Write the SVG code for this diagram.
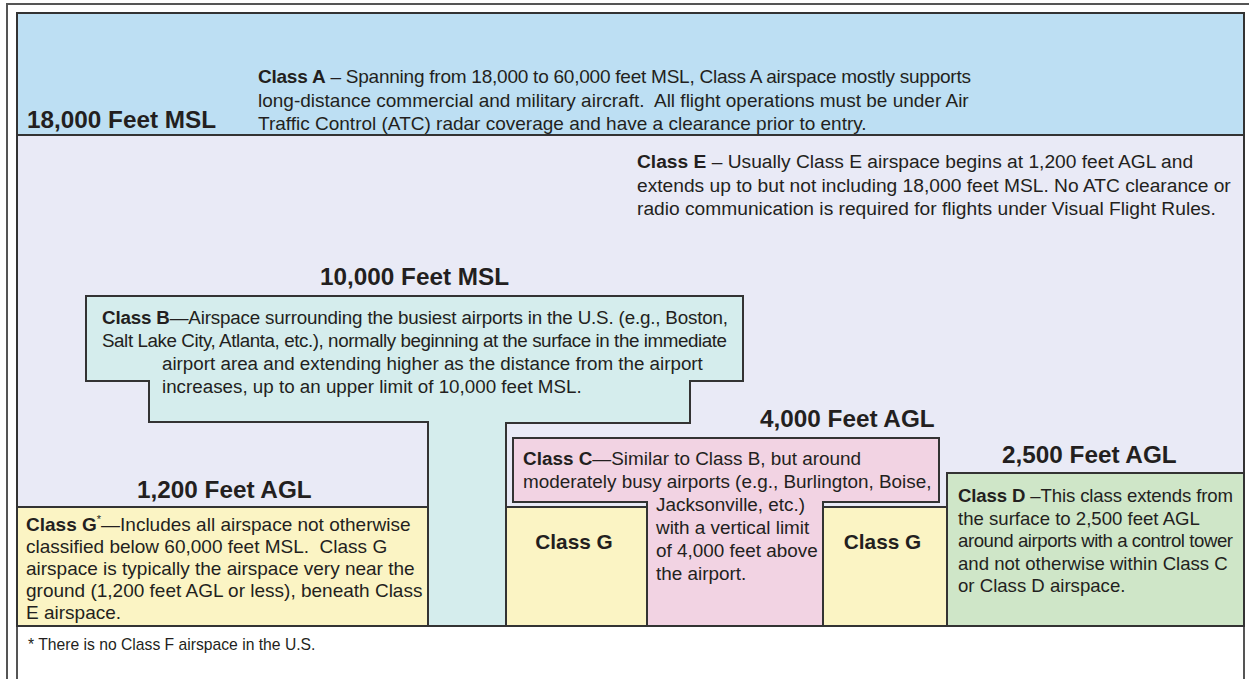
<svg xmlns="http://www.w3.org/2000/svg" width="1249" height="679" viewBox="0 0 1249 679">
  <style>
    .frame { fill: none; stroke: #555; stroke-width: 2; }
    .zone { stroke: #333; stroke-width: 2; stroke-linejoin: miter; }
    .a { fill: #bddff3; }
    .e { fill: #e9eaf6; }
    .b { fill: #d5eded; }
    .c { fill: #f2d3e3; }
    .g { fill: #fbf4c4; }
    .d { fill: #cfe6c8; }
    text { font-family: "Liberation Sans", Arial, Helvetica, sans-serif; fill: #231f20; white-space: pre; }
    .hdr { font-size: 24.3px; font-weight: bold; }
    .lbl { font-size: 20.8px; font-weight: bold; }
    .b-t { font-weight: bold; }
    .ta { font-size: 19px; }
    .te { font-size: 19.2px; }
    .tb { font-size: 18.8px; }
    .tc { font-size: 18.9px; }
    .td { font-size: 18.6px; }
    .tg { font-size: 19px; }
    .note { font-size: 15.7px; }
  </style>

  <rect x="0" y="0" width="1249" height="679" fill="#fff"/>

  <!-- double outer frame -->
  <g id="frame">
    <rect class="frame" x="7" y="4" width="1260" height="700"/>
    <rect class="frame" x="17" y="13" width="1227" height="700"/>
  </g>

  <!-- Class A band (18,000 to 60,000 ft) -->
  <g id="class-a">
    <rect class="zone a" x="17" y="13" width="1227" height="122"/>
    <text class="hdr" x="27" y="128">18,000 Feet MSL</text>
    <text class="ta" x="258" y="83" textLength="713"><tspan class="b-t">Class A</tspan> – Spanning from 18,000 to 60,000 feet MSL, Class A airspace mostly supports</text>
    <text class="ta" x="258" y="106.5">long-distance commercial and military aircraft.  All flight operations must be under Air</text>
    <text class="ta" x="258" y="130">Traffic Control (ATC) radar coverage and have a clearance prior to entry.</text>
  </g>

  <!-- Class E background -->
  <g id="class-e">
    <rect class="zone e" x="17" y="135" width="1227" height="491"/>
    <text class="te" x="637" y="168"><tspan class="b-t">Class E</tspan> – Usually Class E airspace begins at 1,200 feet AGL and</text>
    <text class="te" x="637" y="191.5">extends up to but not including 18,000 feet MSL. No ATC clearance or</text>
    <text class="te" x="637" y="215">radio communication is required for flights under Visual Flight Rules.</text>
  </g>

  <!-- Class B inverted wedding cake -->
  <g id="class-b">
    <path class="zone b" d="M86,296 H743 V381 H690 V423 H506 V626 H428 V422 H149 V381 H86 Z"/>
    <text class="hdr" x="320" y="285">10,000 Feet MSL</text>
    <text class="tb" x="102" y="324" textLength="626"><tspan class="b-t">Class B</tspan>—Airspace surrounding the busiest airports in the U.S. (e.g., Boston,</text>
    <text class="tb" x="102" y="347" textLength="625">Salt Lake City, Atlanta, etc.), normally beginning at the surface in the immediate</text>
    <text class="tb" x="162" y="370">airport area and extending higher as the distance from the airport</text>
    <text class="tb" x="162" y="393">increases, up to an upper limit of 10,000 feet MSL.</text>
  </g>

  <!-- Class G, left -->
  <g id="class-g-left">
    <rect class="zone g" x="17" y="507" width="411" height="119"/>
    <text class="hdr" x="137" y="498">1,200 Feet AGL</text>
    <text class="tg" x="26" y="531"><tspan class="b-t">Class G</tspan><tspan font-size="11" dy="-8">*</tspan><tspan dy="8">—Includes all airspace not otherwise</tspan></text>
    <text class="tg" x="26" y="553">classified below 60,000 feet MSL.  Class G</text>
    <text class="tg" x="26" y="575">airspace is typically the airspace very near the</text>
    <text class="tg" x="26" y="597">ground (1,200 feet AGL or less), beneath Class</text>
    <text class="tg" x="26" y="619">E airspace.</text>
  </g>

  <!-- Class G beside Class C -->
  <g id="class-g-mid">
    <rect class="zone g" x="506" y="507" width="141" height="119"/>
    <text class="lbl" x="574" y="549" text-anchor="middle">Class G</text>
  </g>
  <g id="class-g-right">
    <rect class="zone g" x="823" y="507" width="124" height="119"/>
    <text class="lbl" x="882.5" y="549" text-anchor="middle">Class G</text>
  </g>

  <!-- Class C -->
  <g id="class-c">
    <path class="zone c" d="M513,438 H939 V502 H823 V626 H647 V502 H513 Z"/>
    <text class="hdr" x="760" y="427">4,000 Feet AGL</text>
    <text class="tc" x="523" y="465"><tspan class="b-t">Class C</tspan>—Similar to Class B, but around</text>
    <text class="tc" x="523" y="488">moderately busy airports (e.g., Burlington, Boise,</text>
    <text class="tc" x="656" y="511">Jacksonville, etc.)</text>
    <text class="tc" x="656" y="534">with a vertical limit</text>
    <text class="tc" x="656" y="557">of 4,000 feet above</text>
    <text class="tc" x="656" y="580">the airport.</text>
  </g>

  <!-- Class D -->
  <g id="class-d">
    <rect class="zone d" x="947" y="473" width="297" height="153"/>
    <text class="hdr" x="1002" y="463">2,500 Feet AGL</text>
    <text class="td" x="958" y="502" textLength="275"><tspan class="b-t">Class D</tspan> –This class extends from</text>
    <text class="td" x="958" y="524.5">the surface to 2,500 feet AGL</text>
    <text class="td" x="958" y="547" textLength="275">around airports with a control tower</text>
    <text class="td" x="958" y="569.5">and not otherwise within Class C</text>
    <text class="td" x="958" y="592">or Class D airspace.</text>
  </g>

  <!-- footnote -->
  <g id="footnote">
    <text class="note" x="28" y="650">* There is no Class F airspace in the U.S.</text>
  </g>

  <g id="connectors"/>
</svg>
